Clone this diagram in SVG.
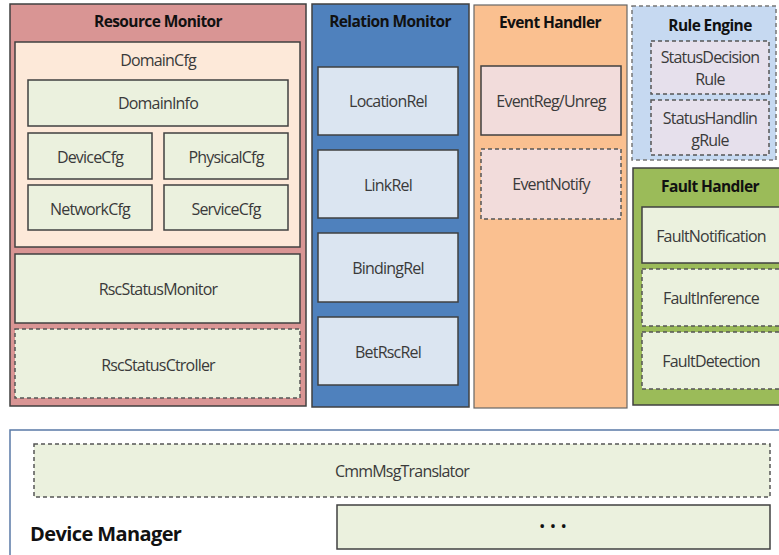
<svg xmlns="http://www.w3.org/2000/svg" width="779" height="555" viewBox="0 0 779 555">
  <style>
    text { font-family: "Open Sans", "Noto Sans", "Liberation Sans", sans-serif; fill: #3a3a3a; font-size: 16px; text-anchor: middle; dominant-baseline: central; letter-spacing: -0.8px; }
    .title { font-weight: bold; fill: #111; font-size: 15.5px; letter-spacing: -0.6px; }
    .box { stroke: #404040; stroke-width: 1.5; }
    .dash { stroke: #555; stroke-width: 1.5; stroke-dasharray: 4 3; }
    .green { fill: #ebf1de; }
  </style>

  <!-- Resource Monitor -->
  <g id="resource-monitor">
    <rect x="10" y="4" width="296" height="402" fill="#d99594" class="box"/>
    <text x="158" y="21" class="title">Resource Monitor</text>
    <g id="domain-cfg">
      <rect x="15" y="42" width="285" height="205" fill="#fde9d9" class="box"/>
      <text x="158" y="60">DomainCfg</text>
    </g>
    <g id="domain-info"><rect x="28" y="80" width="260" height="46" class="box green"/><text x="158" y="103">DomainInfo</text></g>
    <g id="device-cfg"><rect x="28" y="133" width="124" height="46" class="box green"/><text x="90" y="157">DeviceCfg</text></g>
    <g id="physical-cfg"><rect x="164" y="133" width="124" height="46" class="box green"/><text x="226" y="157">PhysicalCfg</text></g>
    <g id="network-cfg"><rect x="28" y="185" width="124" height="45" class="box green"/><text x="90" y="209">NetworkCfg</text></g>
    <g id="service-cfg"><rect x="164" y="185" width="124" height="45" class="box green"/><text x="226" y="209">ServiceCfg</text></g>
    <g id="rsc-status-monitor"><rect x="15" y="254" width="285" height="69" class="box green"/><text x="158" y="289">RscStatusMonitor</text></g>
    <g id="rsc-status-ctroller"><rect x="15" y="329" width="285" height="69" class="dash green"/><text x="158" y="365">RscStatusCtroller</text></g>
  </g>

  <!-- Relation Monitor -->
  <g id="relation-monitor">
    <rect x="312" y="4" width="157" height="403" fill="#4f81bd" class="box"/>
    <text x="390" y="21" class="title">Relation Monitor</text>
    <g id="location-rel"><rect x="318" y="67" width="140" height="68" fill="#dbe5f1" class="box"/><text x="388" y="101">LocationRel</text></g>
    <g id="link-rel"><rect x="318" y="150" width="140" height="68" fill="#dbe5f1" class="box"/><text x="388" y="185">LinkRel</text></g>
    <g id="binding-rel"><rect x="318" y="233" width="140" height="69" fill="#dbe5f1" class="box"/><text x="388" y="268">BindingRel</text></g>
    <g id="bet-rsc-rel"><rect x="318" y="317" width="140" height="68" fill="#dbe5f1" class="box"/><text x="388" y="352">BetRscRel</text></g>
  </g>

  <!-- Event Handler -->
  <g id="event-handler">
    <rect x="474" y="5" width="153" height="403" fill="#fac090" stroke="#666" stroke-width="1.2"/>
    <text x="550" y="22" class="title">Event Handler</text>
    <g id="event-reg"><rect x="481" y="66" width="140" height="69" fill="#f2dcdb" class="box"/><text x="551" y="101">EventReg/Unreg</text></g>
    <g id="event-notify"><rect x="481" y="149" width="140" height="70" fill="#f2dcdb" class="dash"/><text x="551" y="184">EventNotify</text></g>
  </g>

  <!-- Rule Engine -->
  <g id="rule-engine">
    <rect x="632" y="6" width="144" height="154" fill="#c6d9f1" stroke="#777" stroke-width="1.5" stroke-dasharray="4 3"/>
    <text x="710" y="25" class="title">Rule Engine</text>
    <g id="status-decision-rule">
      <rect x="651" y="41" width="118" height="53" fill="#e6e0ec" class="dash"/>
      <text x="710" y="57">StatusDecision</text>
      <text x="710" y="79">Rule</text>
    </g>
    <g id="status-handling-rule">
      <rect x="651" y="100" width="118" height="55" fill="#e6e0ec" class="dash"/>
      <text x="710" y="118">StatusHandlin</text>
      <text x="710" y="140">gRule</text>
    </g>
  </g>

  <!-- Fault Handler -->
  <g id="fault-handler">
    <rect x="633" y="168" width="150" height="237" fill="#9bbb59" class="box"/>
    <text x="710" y="186" class="title">Fault Handler</text>
    <g id="fault-notification"><rect x="642" y="207" width="145" height="56" class="box green"/><text x="711" y="236">FaultNotification</text></g>
    <g id="fault-inference"><rect x="642" y="269" width="145" height="57" class="dash green"/><text x="711" y="298">FaultInference</text></g>
    <g id="fault-detection"><rect x="642" y="332" width="145" height="57" class="dash green"/><text x="711" y="361">FaultDetection</text></g>
  </g>

  <!-- Device Manager -->
  <g id="device-manager">
    <rect x="10" y="430" width="780" height="140" fill="#ffffff" stroke="#5a7aa6" stroke-width="1.5"/>
    <text x="30" y="533" class="title" style="font-size:20px; text-anchor:start;">Device Manager</text>
    <g id="cmm-msg-translator"><rect x="34" y="444" width="736" height="53" class="dash green"/><text x="402" y="471">CmmMsgTranslator</text></g>
    <g id="etc"><rect x="337" y="505" width="433" height="44" class="box green"/><text x="553" y="525" style="font-size:17px; fill:#111; letter-spacing:0;">• • •</text></g>
  </g>

  <!-- no connectors are drawn between the modules -->
  <g id="connectors"/>
</svg>
